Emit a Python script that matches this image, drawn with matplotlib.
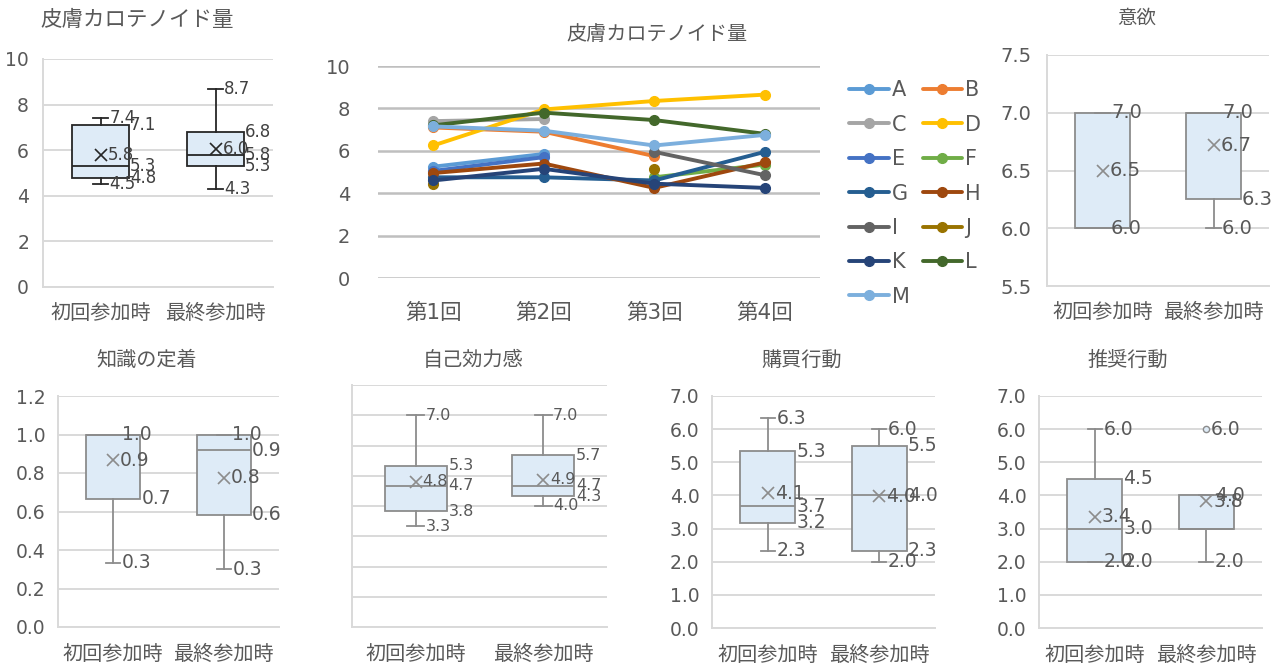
import numpy as np
import matplotlib.pyplot as plt

plt.rcParams['font.family'] = ['DejaVu Sans', 'Noto Sans CJK JP']

W, H = 1279, 668
TXT = '#595959'
GRID = '#d9d9d9'
BOXFILL = '#deebf7'

groups = ['初回参加時', '最終参加時']

## box plot data: [min, q1, median, q3, max]
skin_first = [4.5, 4.8, 5.3, 7.1, 7.4]
skin_last = [4.3, 5.3, 5.8, 6.8, 8.7]
skin_mean = [5.78, 6.04]

motiv_first = [6.0, 6.0, 6.0, 7.0, 7.0]
motiv_last = [6.0, 6.25, 7.0, 7.0, 7.0]
motiv_mean = [6.5, 6.72]

know_first = [0.333, 0.667, 1.0, 1.0, 1.0]
know_last = [0.3, 0.583, 0.917, 1.0, 1.0]
know_mean = [0.867, 0.775]

eff_first = [3.33, 3.83, 4.67, 5.33, 7.0]
eff_last = [4.0, 4.33, 4.67, 5.67, 7.0]
eff_mean = [4.8, 4.87]

buy_first = [2.33, 3.17, 3.67, 5.33, 6.33]
buy_last = [2.0, 2.33, 4.0, 5.5, 6.0]
buy_mean = [4.07, 3.97]

rec_first = [2.0, 2.0, 3.0, 4.5, 6.0]
rec_last = [2.0, 3.0, 3.0, 4.0, 4.0]
rec_mean = [3.36, 3.83]
rec_fliers = [[], [6.0]]

## line chart data (nan = no measurement)
rounds = ['第1回', '第2回', '第3回', '第4回']
nan = np.nan
ser_A = [5.25, 5.85, nan, nan]
ser_B = [7.1, 6.9, 5.75, nan]
ser_C = [7.4, 7.5, nan, nan]
ser_D = [6.25, 7.95, 8.35, 8.65]
ser_E = [5.05, 5.7, nan, nan]
ser_F = [nan, nan, 4.75, 5.35]
ser_G = [4.75, 4.75, 4.6, 5.95]
ser_H = [4.95, 5.4, 4.25, 5.45]
ser_I = [nan, nan, 5.95, 4.85]
ser_J = [4.45, nan, 5.15, nan]
ser_K = [4.6, 5.15, 4.45, 4.25]
ser_L = [7.2, 7.8, 7.45, 6.8]
ser_M = [7.15, 6.95, 6.25, 6.75]
ser_names = ['A', 'B', 'C', 'D', 'E', 'F', 'G', 'H', 'I', 'J', 'K', 'L', 'M']
ser_vals = [ser_A, ser_B, ser_C, ser_D, ser_E, ser_F, ser_G, ser_H, ser_I, ser_J, ser_K, ser_L, ser_M]
ser_colors = ['#5b9bd5', '#ed7d31', '#a5a5a5', '#ffc000', '#4472c4', '#70ad47', '#255e91',
              '#9e480e', '#636363', '#997300', '#264478', '#43682b', '#7cafdd']


def px_axes(fig, x0, y0, x1, y1):
    return fig.add_axes([x0 / W, 1 - y1 / H, (x1 - x0) / W, (y1 - y0) / H])


def fmt1(v):
    return '%.1f' % (np.floor(v * 10 + 0.5) / 10)


def box_panel(ax, first, last, means, fliers=([], []), dark=False, lab_fs=13.5, tick_fs=13.5,
              ylim=(0, 7), yticks=None, yfmt='%.1f', show_ylabels=True, xpad=13, ypad=9, xfs=14.5):
    edge = '#262626' if dark else '#8c8c8c'
    wid = 0.49
    capw = 0.13
    stats = []
    for s, m, f in zip([first, last], means, fliers):
        stats.append(dict(whislo=s[0], q1=s[1], med=s[2], q3=s[3], whishi=s[4], mean=m, fliers=f))
    lp = dict(color=edge, lw=1.3)
    ax.bxp(stats, positions=[0, 1], widths=wid, capwidths=capw, patch_artist=True, showmeans=True,
           boxprops=dict(facecolor=BOXFILL, edgecolor=edge, lw=1.3), medianprops=lp,
           whiskerprops=lp, capprops=lp,
           meanprops=dict(marker='x', markeredgecolor=edge, markersize=9, markeredgewidth=1.2),
           flierprops=dict(marker='o', markerfacecolor=BOXFILL, markeredgecolor=edge, markersize=4.5),
           manage_ticks=False, zorder=3)
    # data labels like excel
    for i, s in enumerate([first, last]):
        lo, q1, med, q3, hi = s
        labs = [(hi, i + capw / 2, 1)]
        if q3 != hi:
            labs.append((q3, i + wid / 2, 1))
        if med != q3 and med != q1:
            labs.append((med, i + wid / 2, 1))
        if q1 != med:
            labs.append((q1, i + wid / 2, 1))
        labs.append((lo, i + capw / 2, 1))
        labs.append((means[i], i, 5))
        for f in fliers[i]:
            labs.append((f, i, 3))
        for v, x, off in labs:
            ax.annotate(fmt1(v), xy=(x, v), xytext=(off, 0), textcoords='offset points',
                        va='center', ha='left', fontsize=lab_fs, color='#404040' if dark else TXT, zorder=5)
    ax.set_xlim(-0.5, 1.5)
    ax.set_ylim(*ylim)
    ax.set_yticks(yticks)
    if show_ylabels:
        ax.set_yticklabels([yfmt % t for t in yticks])
    else:
        ax.set_yticklabels([])
    ax.set_xticks([0, 1], groups)
    ax.tick_params(axis='both', length=0, colors=TXT, labelsize=tick_fs)
    ax.tick_params(axis='x', pad=xpad, labelsize=xfs)
    ax.tick_params(axis='y', pad=ypad)
    ax.yaxis.grid(True, color=GRID, lw=1.4)
    ax.set_axisbelow(True)
    for sp in ['top', 'right']:
        ax.spines[sp].set_visible(False)
    for sp in ['left', 'bottom']:
        ax.spines[sp].set_color(GRID)
        ax.spines[sp].set_linewidth(1.4)


fig = plt.figure(figsize=(W / 100, H / 100), dpi=100)

## top-left box chart
ax1 = px_axes(fig, 43, 59, 273, 287)
box_panel(ax1, skin_first, skin_last, skin_mean, dark=True, lab_fs=12, tick_fs=13.5,
          ylim=(0, 10), yticks=[0, 2, 4, 6, 8, 10], yfmt='%d', xpad=12, ypad=10)
fig.text(40 / W, 1 - 20 / H, '皮膚カロテノイド量', ha='left', va='center', fontsize=15.5, color=TXT)

## line chart
ax2 = px_axes(fig, 378, 66, 820, 278)
for k in range(len(ser_names)):
    ax2.plot(range(4), ser_vals[k], color=ser_colors[k], lw=2.8, marker='o', markersize=7,
             label=ser_names[k], zorder=3 + k, solid_capstyle='round')
ax2.set_xlim(-0.5, 3.5)
ax2.set_ylim(0, 10)
ax2.set_yticks([0, 2, 4, 6, 8, 10])
ax2.set_xticks(range(4), rounds)
ax2.tick_params(axis='both', length=0, colors=TXT, labelsize=14)
ax2.tick_params(axis='x', pad=18, labelsize=15.5)
ax2.tick_params(axis='y', pad=20)
ax2.yaxis.grid(True, color='#bfbfbf', lw=1.8)
ax2.set_axisbelow(True)
for sp in ax2.spines.values():
    sp.set_visible(False)
fig.text(657 / W, 1 - 34 / H, '皮膚カロテノイド量', ha='center', va='center', fontsize=14.5, color=TXT)

# excel fills the legend row by row, matplotlib column by column
hnd, lab = ax2.get_legend_handles_labels()
order = list(range(0, 13, 2)) + list(range(1, 13, 2))
fig.legend([hnd[i] for i in order], [lab[i] for i in order], ncol=2, loc='upper left',
           bbox_to_anchor=(839 / W, 1 - 70 / H), frameon=False, fontsize=15,
           handlelength=1.9, handletextpad=0.15, columnspacing=0.6, labelspacing=0.69,
           borderpad=0, labelcolor=TXT)

## 意欲
ax3 = px_axes(fig, 1047, 55, 1269, 286)
box_panel(ax3, motiv_first, motiv_last, motiv_mean, lab_fs=14, tick_fs=14,
          ylim=(5.5, 7.5), yticks=[5.5, 6.0, 6.5, 7.0, 7.5], xpad=12, ypad=11)
fig.text(1137 / W, 1 - 18 / H, '意欲', ha='center', va='center', fontsize=14, color=TXT)

## bottom row
ax4 = px_axes(fig, 58, 396, 279, 627)
box_panel(ax4, know_first, know_last, know_mean, ylim=(0, 1.2),
          yticks=[0.0, 0.2, 0.4, 0.6, 0.8, 1.0, 1.2])
fig.text(147 / W, 1 - 360 / H, '知識の定着', ha='center', va='center', fontsize=14.5, color=TXT)

ax5 = px_axes(fig, 352, 385, 607, 627)
box_panel(ax5, eff_first, eff_last, eff_mean, lab_fs=11.5, ylim=(0, 8), yticks=list(range(9)),
          show_ylabels=False)
fig.text(473 / W, 1 - 360 / H, '自己効力感', ha='center', va='center', fontsize=14.5, color=TXT)

ax6 = px_axes(fig, 712, 396, 935, 628)
box_panel(ax6, buy_first, buy_last, buy_mean, ylim=(0, 7), yticks=list(range(8)))
fig.text(802 / W, 1 - 360 / H, '購買行動', ha='center', va='center', fontsize=14.5, color=TXT)

ax7 = px_axes(fig, 1039, 396, 1262, 628)
box_panel(ax7, rec_first, rec_last, rec_mean, fliers=rec_fliers, ylim=(0, 7), yticks=list(range(8)))
fig.text(1128 / W, 1 - 360 / H, '推奨行動', ha='center', va='center', fontsize=14.5, color=TXT)

fig.savefig('out.png', dpi=100)
